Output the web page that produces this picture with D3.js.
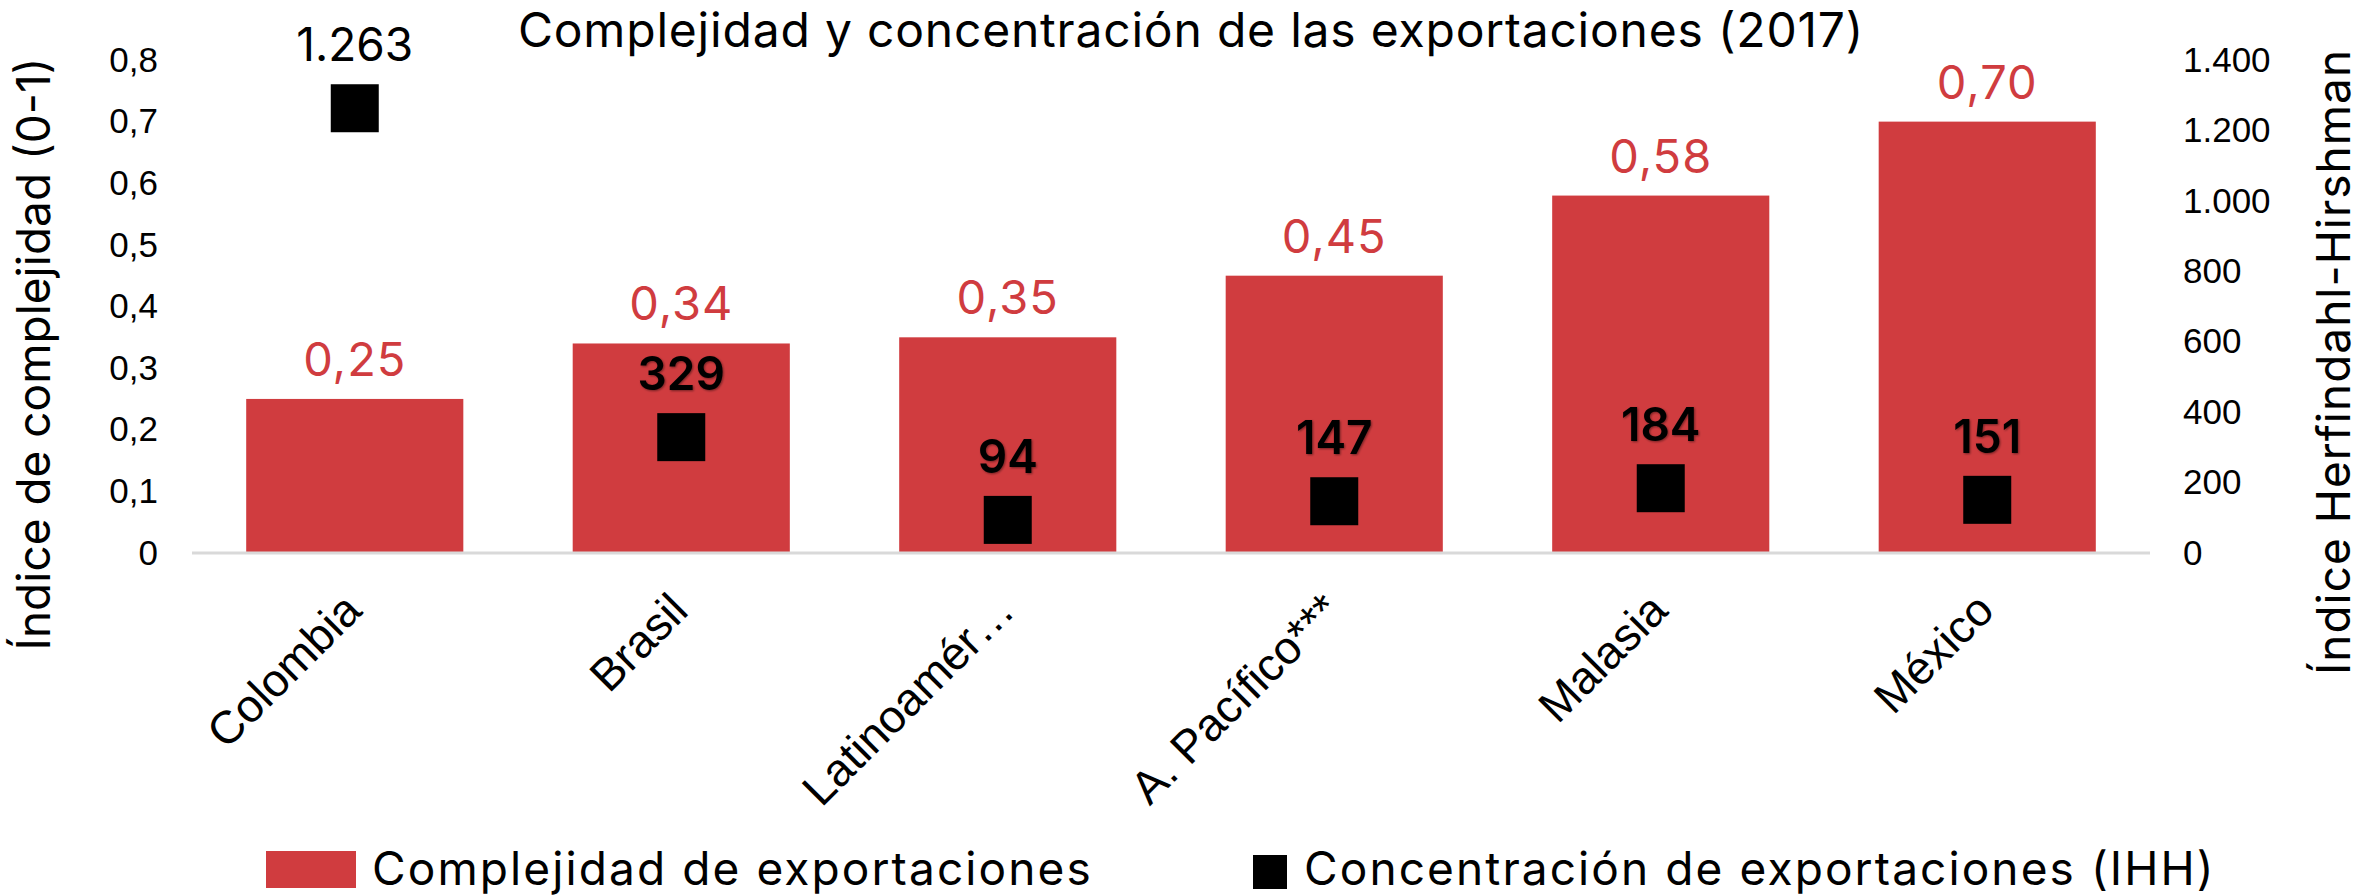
<!DOCTYPE html>
<html>
<head>
<meta charset="utf-8">
<script src="https://cdn.jsdelivr.net/npm/d3@7"></script>
<style>
  html, body { margin: 0; padding: 0; background: #fff; }
  svg { display: block; }
</style>
</head>
<body>
<div id="chart"></div>
<script>

// Chart data.
var categories = ["Colombia", "Brasil", "Latinoamér\u2026", "A. Pacífico***", "Malasia", "México"];
var complexity = [0.25, 0.34, 0.35, 0.45, 0.58, 0.70];
var concentration = [1263, 329, 94, 147, 184, 151];
var leftTicks = [0, 0.1, 0.2, 0.3, 0.4, 0.5, 0.6, 0.7, 0.8];
var rightTicks = [0, 200, 400, 600, 800, 1000, 1200, 1400];
var seriesNames = ["Complejidad de exportaciones", "Concentración de exportaciones (IHH)"];
var chartTitle = "Complejidad y concentración de las exportaciones (2017)";
var leftTitle = "Índice de complejidad (0-1)";
var rightTitle = "Índice Herfindahl-Hirshman";

// Configuration.
var width = 2364,
    height = 895,
    plotLeft = 192,
    plotRight = 2150,
    plotTop = 60,
    plotBottom = 553,
    barColor = "#d03c3f",
    squareSize = 48,
    labelFont = "Inter, 'Noto Sans', sans-serif",
    axisFont = "'Liberation Sans', Arial, sans-serif";

// Spanish number formatting (comma decimal, dot thousands).
var es = d3.formatLocale({ decimal: ",", thousands: ".", grouping: [3], currency: ["", "€"] });
var fmtLeft = function (d) { return d === 0 ? "0" : es.format(".1f")(d); },
    fmtRight = es.format(",.0f"),
    fmtBar = es.format(".2f");

var svg = d3.select("#chart").append("svg")
    .attr("width", width)
    .attr("height", height);

// Soft shadow used behind the IHH labels that sit on the bars.
var defs = svg.append("defs");
defs.append("filter")
    .attr("id", "glow")
    .attr("x", "-20%").attr("y", "-20%")
    .attr("width", "140%").attr("height", "140%")
  .append("feDropShadow")
    .attr("dx", 1).attr("dy", 1)
    .attr("stdDeviation", 1.2)
    .attr("flood-color", "#000")
    .attr("flood-opacity", 0.45);

// Scales.
var x = d3.scaleBand()
    .domain(categories)
    .range([plotLeft, plotRight])
    .paddingInner(0.335)
    .paddingOuter(0.166);

var yLeft = d3.scaleLinear()
    .domain([0, 0.8])
    .range([plotBottom, plotTop]);

var yRight = d3.scaleLinear()
    .domain([0, 1400])
    .range([plotBottom, plotTop]);

// Title.
svg.append("text")
    .attr("x", 1191)
    .attr("y", 47)
    .attr("text-anchor", "middle")
    .style("font-family", labelFont)
    .style("font-size", "48px")
    .style("letter-spacing", "0.8px")
    .style("fill", "#000")
    .text(chartTitle);

// Left axis (no line, just labels).
var leftAxis = svg.append("g")
    .attr("transform", "translate(" + 170 + ",0)")
    .call(d3.axisLeft(yLeft).tickValues(leftTicks).tickFormat(fmtLeft).tickSize(0).tickPadding(12));
leftAxis.select(".domain").remove();
leftAxis.selectAll("text")
    .style("font-family", axisFont)
    .style("font-size", "35px")
    .style("fill", "#000");

// Right axis.
var rightAxis = svg.append("g")
    .attr("transform", "translate(" + 2171 + ",0)")
    .call(d3.axisRight(yRight).tickValues(rightTicks).tickFormat(fmtRight).tickSize(0).tickPadding(12));
rightAxis.select(".domain").remove();
rightAxis.selectAll("text")
    .style("font-family", axisFont)
    .style("font-size", "35px")
    .style("fill", "#000");

// Axis titles.
svg.append("text")
    .attr("transform", "translate(50,354) rotate(-90)")
    .attr("text-anchor", "middle")
    .style("font-family", labelFont)
    .style("font-size", "46px")
    .text(leftTitle);

svg.append("text")
    .attr("transform", "translate(2350,362) rotate(-90)")
    .attr("text-anchor", "middle")
    .style("font-family", labelFont)
    .style("font-size", "46px")
    .style("letter-spacing", "1px")
    .text(rightTitle);

// Bars.
svg.append("g").selectAll("rect")
    .data(categories)
  .enter().append("rect")
    .attr("x", function (d) { return x(d); })
    .attr("y", function (d, i) { return yLeft(complexity[i]); })
    .attr("width", x.bandwidth())
    .attr("height", function (d, i) { return plotBottom - yLeft(complexity[i]); })
    .attr("fill", barColor);

// Baseline.
svg.append("line")
    .attr("x1", plotLeft).attr("x2", plotRight)
    .attr("y1", plotBottom).attr("y2", plotBottom)
    .attr("stroke", "#d9d9d9")
    .attr("stroke-width", 3);

// Bar value labels.
svg.append("g").selectAll("text")
    .data(categories)
  .enter().append("text")
    .attr("x", function (d) { return x(d) + x.bandwidth() / 2; })
    .attr("y", function (d, i) { return yLeft(complexity[i]) - 23; })
    .attr("text-anchor", "middle")
    .style("font-family", labelFont)
    .style("font-size", "47px")
    .style("letter-spacing", "1px")
    .style("fill", barColor)
    .text(function (d, i) { return fmtBar(complexity[i]); });

// IHH squares.
svg.append("g").selectAll("rect")
    .data(categories)
  .enter().append("rect")
    .attr("x", function (d) { return x(d) + x.bandwidth() / 2 - squareSize / 2; })
    .attr("y", function (d, i) { return yRight(concentration[i]) - squareSize / 2; })
    .attr("width", squareSize)
    .attr("height", squareSize)
    .attr("fill", "#000");

// IHH labels: bold with a shadow when they sit on a bar, plain otherwise.
svg.append("g").selectAll("text")
    .data(categories)
  .enter().append("text")
    .each(function (d, i) {
      var ly = yRight(concentration[i]) - 47,
          onBar = ly > yLeft(complexity[i]);
      d3.select(this)
        .attr("x", x(d) + x.bandwidth() / 2)
        .attr("y", ly)
        .style("font-weight", onBar ? 600 : 400)
        .attr("filter", onBar ? "url(#glow)" : null);
    })
    .attr("text-anchor", "middle")
    .style("font-family", labelFont)
    .style("font-size", "46px")
    .style("fill", "#000")
    .text(function (d, i) { return fmtRight(concentration[i]); });

// Category labels, rotated.
svg.append("g").selectAll("text")
    .data(categories)
  .enter().append("text")
    .attr("transform", function (d) {
      return "translate(" + (x(d) + x.bandwidth() / 2 + 9) + "," + (plotBottom + 60) + ") rotate(-45)";
    })
    .attr("text-anchor", "end")
    .style("font-family", axisFont)
    .style("font-size", "46px")
    .style("fill", "#000")
    .text(function (d) { return d; });

// Legend.
var legend = svg.append("g")
    .style("font-family", labelFont)
    .style("font-size", "46px")
    .style("letter-spacing", "2.1px");
legend.append("rect")
    .attr("x", 266).attr("y", 851)
    .attr("width", 90).attr("height", 37)
    .attr("fill", barColor);
legend.append("text")
    .attr("x", 372).attr("y", 885)
    .text(seriesNames[0]);
legend.append("rect")
    .attr("x", 1253).attr("y", 855)
    .attr("width", 34).attr("height", 34)
    .attr("fill", "#000");
legend.append("text")
    .attr("x", 1304).attr("y", 885)
    .text(seriesNames[1]);

</script>
</body>
</html>
